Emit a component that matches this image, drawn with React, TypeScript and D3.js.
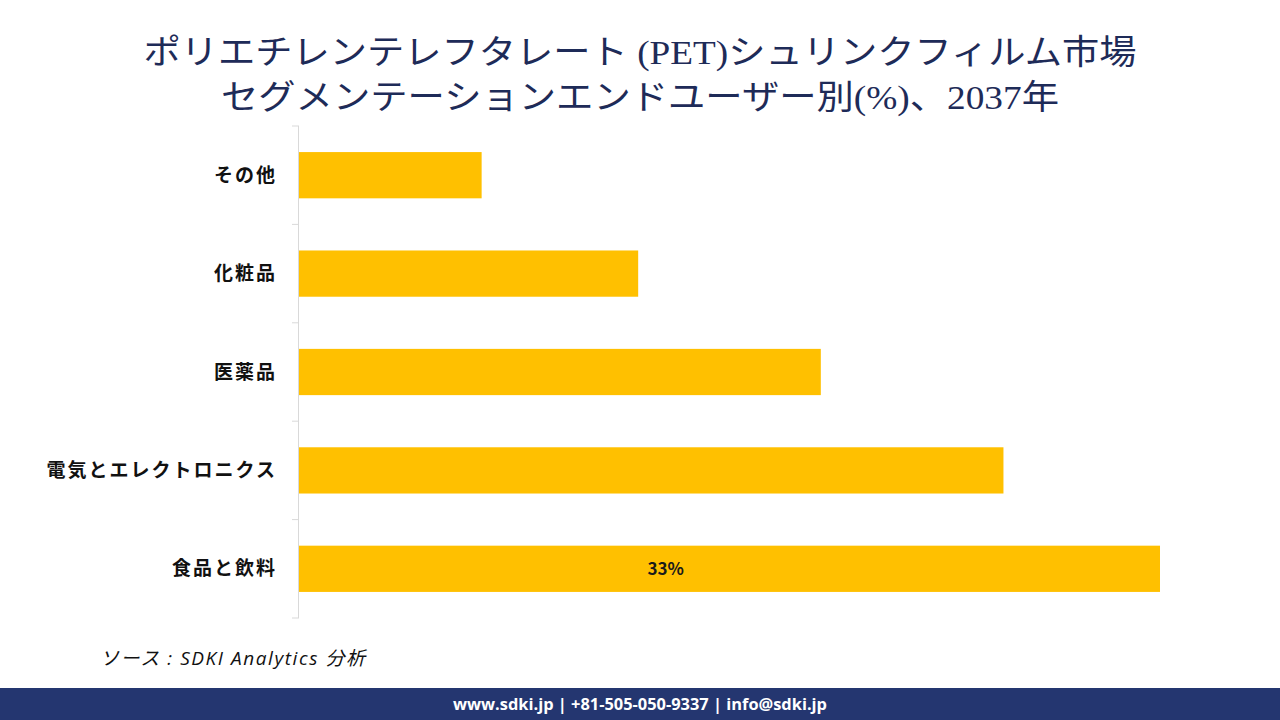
import React from "react";
import * as d3 from "d3";

const categories = ["その他", "化粧品", "医薬品", "電気とエレクトロニクス", "食品と飲料"];
const values = [7, 13, 20, 27, 33];
const shownLabels = ["", "", "", "", "33%"];
const titleLines = [
  "ポリエチレンテレフタレート (PET)シュリンクフィルム市場",
  "セグメンテーションエンドユーザー別(%)、2037年",
];
const sourceText = "ソース : SDKI Analytics  分析";
const footerText = "www.sdki.jp | +81-505-050-9337 | info@sdki.jp";

const W = 1280;
const H = 720;
const plot = { left: 299, right: 1160, top: 126, bottom: 618 };

export default function App() {
  const x = d3.scaleLinear().domain([0, d3.max(values) as number]).range([plot.left, plot.right]);
  const y = d3.scaleBand<string>().domain(categories).range([plot.top, plot.bottom]).paddingInner(0.53).paddingOuter(0.265);
  const bandStep = (plot.bottom - plot.top) / categories.length;
  const boundaries = d3.range(categories.length + 1).map((i) => plot.top + i * bandStep);
  const sans = "'Noto Sans CJK JP', 'Noto Sans', sans-serif";
  const serif = "'Liberation Serif', 'DejaVu Serif', 'Noto Sans CJK JP', serif";

  return (
    <div style={{ position: "absolute", left: 0, top: 0, width: W, height: H }}>
      <svg width={W} height={H} viewBox={`0 0 ${W} ${H}`} style={{ display: "block", background: "#fff" }}>
        <rect x={0} y={0} width={W} height={H} fill="#ffffff" />
        {titleLines.map((t, i) => (
          <text
            key={i}
            x={640}
            y={64 + i * 45}
            textAnchor="middle"
            fontFamily={serif}
            fontSize={34}
            fill="#1e2b58"
            textLength={i === 0 ? 993 : 838}
            lengthAdjust="spacingAndGlyphs"
          >
            {t}
          </text>
        ))}

        {/* axis */}
        <line x1={plot.left - 0.5} x2={plot.left - 0.5} y1={plot.top} y2={plot.bottom} stroke="#d9d9d9" strokeWidth={1} />
        {boundaries.map((b, i) => (
          <line key={i} x1={plot.left - 7} x2={plot.left} y1={b} y2={b} stroke="#d9d9d9" strokeWidth={1} />
        ))}

        {categories.map((c, i) => (
          <g key={c}>
            <rect
              x={x(0)}
              y={y(c) as number}
              width={x(values[i]) - x(0)}
              height={y.bandwidth()}
              fill="#ffc000"
            />
            <text
              x={277}
              y={(y(c) as number) + y.bandwidth() / 2}
              dy="0.35em"
              textAnchor="end"
              fontFamily={sans}
              fontWeight={700}
              fontSize={19}
              letterSpacing={2}
              fill="#111"
            >
              {c}
            </text>
            {shownLabels[i] && (
              <text
                x={x(0) + (x(values[i]) - x(0)) * 0.426}
                y={(y(c) as number) + y.bandwidth() / 2}
                dy="0.35em"
                textAnchor="middle"
                fontFamily={sans}
                fontWeight={700}
                fontSize={17}
                fill="#1a1a1a"
              >
                {shownLabels[i]}
              </text>
            )}
          </g>
        ))}

        <text
          x={100}
          y={665}
          fontFamily={"'Open Sans', 'Noto Sans CJK JP', sans-serif"}
          fontStyle="italic"
          fontSize={19}
          fill="#111"
          textLength={265}
          lengthAdjust="spacing"
        >
          {sourceText}
        </text>

        <rect x={0} y={688} width={W} height={32} fill="#243670" />
        <text x={640} y={704} dy="0.35em" textAnchor="middle" fontFamily={"'Open Sans', 'Noto Sans', sans-serif"} fontWeight={700} fontSize={16.4} fill="#ffffff">
          {footerText}
        </text>
      </svg>
    </div>
  );
}
